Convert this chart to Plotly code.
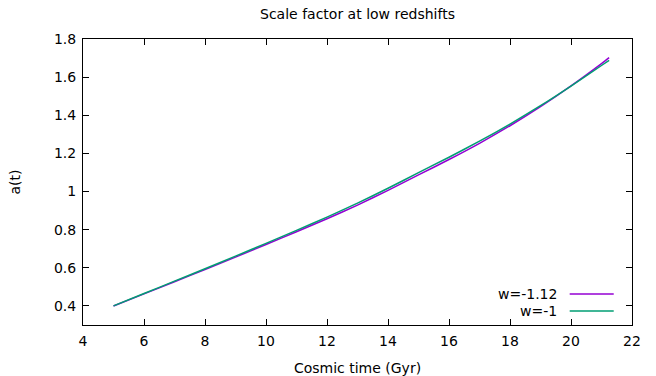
import plotly.graph_objects as go

# Data
t_gyr = [5, 6, 7, 8, 9, 10, 11, 12, 13, 14, 15, 16, 17, 18, 19, 20, 21, 21.25]
a_w112 = [0.400, 0.463, 0.527, 0.591, 0.656, 0.722, 0.789, 0.857, 0.929, 1.006,
          1.087, 1.168, 1.253, 1.345, 1.445, 1.554, 1.671, 1.702]
a_w1 = [0.400, 0.465, 0.530, 0.595, 0.661, 0.728, 0.796, 0.866, 0.939, 1.017,
        1.099, 1.180, 1.264, 1.354, 1.450, 1.553, 1.661, 1.688]
series_names = ["w=-1.12", "w=-1"]
series_colors = ["#9400D3", "#009E73"]
x_ticks = [4, 6, 8, 10, 12, 14, 16, 18, 20, 22]
y_ticks = [0.4, 0.6, 0.8, 1, 1.2, 1.4, 1.6, 1.8]

FONT = "DejaVu Sans, Liberation Sans, sans-serif"
FS = 14

fig = go.Figure()
for name, ys, col in zip(series_names, [a_w112, a_w1], series_colors):
    fig.add_trace(go.Scatter(x=t_gyr, y=ys, mode="lines", name=name,
                             line=dict(color=col, width=1.5, shape="spline", smoothing=0.6),
                             showlegend=False))

# gnuplot-style key: text on the left, line sample on the right
key_y = [0.1085, 0.049]
for name, col, ky in zip(series_names, series_colors, key_y):
    fig.add_annotation(xref="paper", yref="paper", x=0.867, y=ky, text=name,
                       showarrow=False, xanchor="right", yanchor="middle",
                       font=dict(family=FONT, size=FS, color="#000000"))
    fig.add_shape(type="line", xref="paper", yref="paper", x0=0.8865, x1=0.9667,
                  y0=ky, y1=ky, line=dict(color=col, width=1.5))

axis_common = dict(showline=True, linecolor="#000000", linewidth=1, mirror="allticks",
                   ticks="inside", ticklen=6, tickcolor="#000000", tickwidth=1,
                   showgrid=False, zeroline=False,
                   tickfont=dict(family=FONT, size=FS, color="#000000"))

fig.update_xaxes(range=[4, 22], tickvals=x_ticks, ticktext=[str(v) for v in x_ticks],
                 ticklabelstandoff=3,
                 title=dict(text="Cosmic time (Gyr)", font=dict(family=FONT, size=FS, color="#000000"),
                            standoff=16),
                 **axis_common)
fig.update_yaxes(range=[0.3, 1.8], tickvals=y_ticks,
                 ticktext=["0.4", "0.6", "0.8", "1", "1.2", "1.4", "1.6", "1.8"],
                 ticklabelstandoff=3,
                 title=dict(text="a(t)", font=dict(family=FONT, size=FS, color="#000000"), standoff=30),
                 **axis_common)

fig.update_layout(
    width=656, height=376,
    margin=dict(l=83, r=24, t=39, b=51, autoexpand=False),
    paper_bgcolor="white", plot_bgcolor="white",
    title=dict(text="Scale factor at low redshifts", xref="paper", x=0.5, xanchor="center",
               yref="container", y=0.962, yanchor="middle",
               font=dict(family=FONT, size=FS, color="#000000")),
    font=dict(family=FONT, size=FS, color="#000000"),
)

fig.write_html("out.html", config={"displayModeBar": False},
               post_script="document.body.style.margin='0';")
